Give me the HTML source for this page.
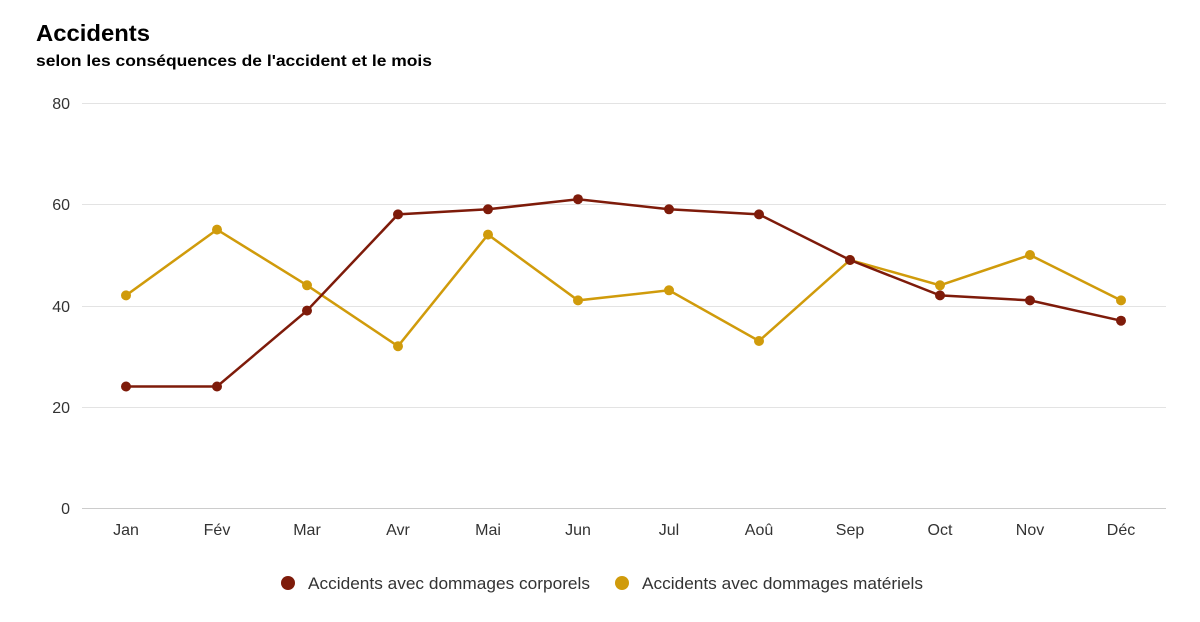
<!DOCTYPE html>
<html><head><meta charset="utf-8"><style>
body{margin:0;background:#fff;font-family:"Liberation Sans",Arial,sans-serif}
</style></head><body>
<svg width="1200" height="617" xmlns="http://www.w3.org/2000/svg" font-family="Liberation Sans, Arial, sans-serif">
<text x="36" y="41" font-size="23" font-weight="bold" fill="#000" textLength="114" lengthAdjust="spacingAndGlyphs">Accidents</text>
<text x="36" y="66" font-size="16" font-weight="bold" fill="#000" textLength="396" lengthAdjust="spacingAndGlyphs">selon les conséquences de l'accident et le mois</text>
<g stroke="#e3e3e3" stroke-width="1">
<line x1="82" y1="103.5" x2="1166" y2="103.5"/>
<line x1="82" y1="204.5" x2="1166" y2="204.5"/>
<line x1="82" y1="306.5" x2="1166" y2="306.5"/>
<line x1="82" y1="407.5" x2="1166" y2="407.5"/>
</g>
<line x1="82" y1="508.5" x2="1166" y2="508.5" stroke="#ccc"/>
<g font-size="16" fill="#333" text-anchor="end">
<text x="70" y="109">80</text><text x="70" y="210">60</text><text x="70" y="312">40</text><text x="70" y="413">20</text><text x="70" y="514">0</text>
</g>
<g font-size="16" fill="#333" text-anchor="middle">
<text x="126" y="535">Jan</text><text x="217" y="535">Fév</text><text x="307" y="535">Mar</text><text x="398" y="535">Avr</text><text x="488" y="535">Mai</text><text x="578" y="535">Jun</text><text x="669" y="535">Jul</text><text x="759" y="535">Aoû</text><text x="850" y="535">Sep</text><text x="940" y="535">Oct</text><text x="1030" y="535">Nov</text><text x="1121" y="535">Déc</text>
</g>
<polyline fill="none" stroke="#d09b0b" stroke-width="2.5" points="126,295.4 217,229.6 307,285.3 398,346.2 488,234.6 578,300.4 669,290.3 759,341 850,260 940,285.3 1030,255 1121,300.4"/>
<g fill="#d09b0b">
<circle cx="126" cy="295.4" r="5"/><circle cx="217" cy="229.6" r="5"/><circle cx="307" cy="285.3" r="5"/><circle cx="398" cy="346.2" r="5"/><circle cx="488" cy="234.6" r="5"/><circle cx="578" cy="300.4" r="5"/><circle cx="669" cy="290.3" r="5"/><circle cx="759" cy="341" r="5"/><circle cx="850" cy="260" r="5"/><circle cx="940" cy="285.3" r="5"/><circle cx="1030" cy="255" r="5"/><circle cx="1121" cy="300.4" r="5"/>
</g>
<polyline fill="none" stroke="#7e1b0a" stroke-width="2.5" points="126,386.5 217,386.5 307,310.6 398,214.4 488,209.3 578,199.2 669,209.3 759,214.4 850,260 940,295.4 1030,300.4 1121,320.7"/>
<g fill="#7e1b0a">
<circle cx="126" cy="386.5" r="5"/><circle cx="217" cy="386.5" r="5"/><circle cx="307" cy="310.6" r="5"/><circle cx="398" cy="214.4" r="5"/><circle cx="488" cy="209.3" r="5"/><circle cx="578" cy="199.2" r="5"/><circle cx="669" cy="209.3" r="5"/><circle cx="759" cy="214.4" r="5"/><circle cx="850" cy="260" r="5"/><circle cx="940" cy="295.4" r="5"/><circle cx="1030" cy="300.4" r="5"/><circle cx="1121" cy="320.7" r="5"/>
</g>
<circle cx="288" cy="583" r="7" fill="#7e1b0a"/>
<text x="308" y="589" font-size="17" fill="#333" textLength="282" lengthAdjust="spacingAndGlyphs">Accidents avec dommages corporels</text>
<circle cx="622" cy="583" r="7" fill="#d09b0b"/>
<text x="642" y="589" font-size="17" fill="#333" textLength="281" lengthAdjust="spacingAndGlyphs">Accidents avec dommages matériels</text>
</svg>
</body></html>
